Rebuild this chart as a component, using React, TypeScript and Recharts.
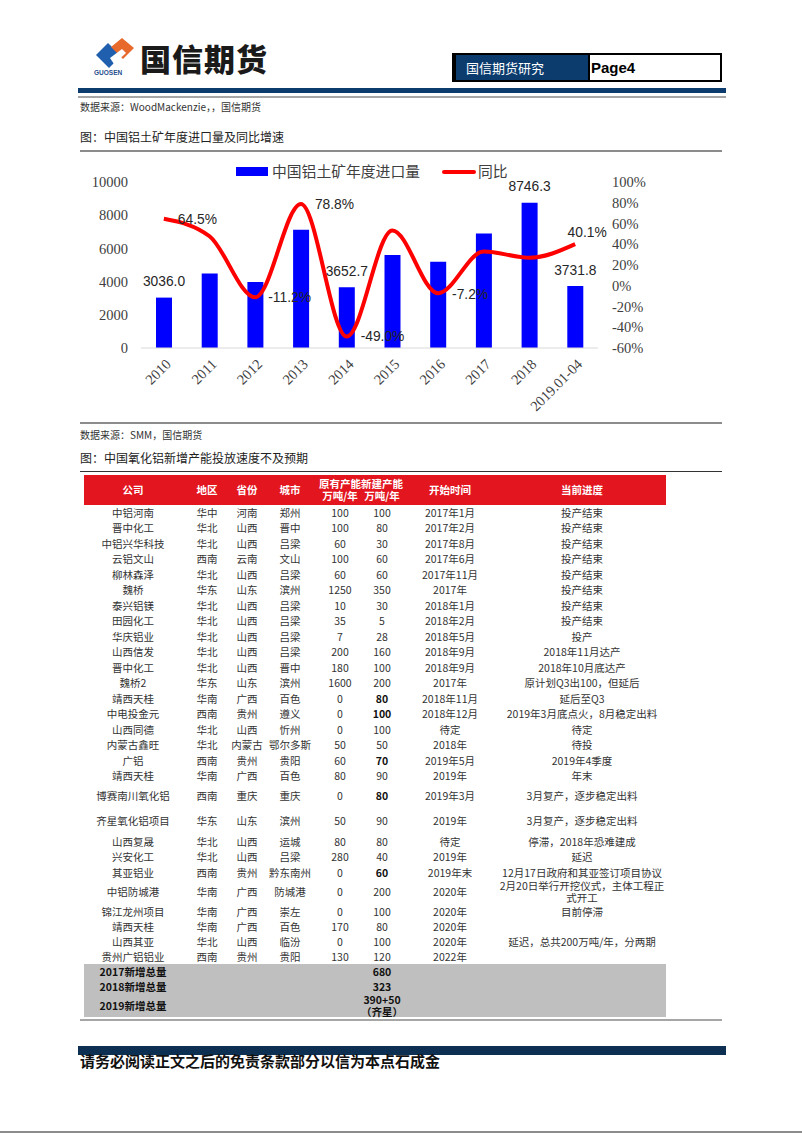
import React from 'react';
import { ComposedChart, Bar, Line, XAxis, YAxis, LabelList, Legend } from 'recharts';

// ---------- Chart data ----------
const categories = ['2010', '2011', '2012', '2013', '2014', '2015', '2016', '2017', '2018', '2019.01-04'];
const importVolume = [3036.0, 4484, 3982, 7120, 3652.7, 5600, 5200, 6900, 8746.3, 3731.8];
const yoyGrowth = [64.5, 47.7, -11.2, 78.8, -49.0, 53.3, -7.2, 33.0, 27.0, 40.1];
const volumeLabelShown = ['2010', '2014', '2018', '2019.01-04'];
const yoyLabelShown = ['2010', '2012', '2013', '2014', '2016', '2019.01-04'];
const leftTicks = [0, 2000, 4000, 6000, 8000, 10000];
const rightTicks = [-60, -40, -20, 0, 20, 40, 60, 80, 100];
const seriesNames = ['中国铝土矿年度进口量', '同比'];

// label placement (style only): [dx, dy, anchor]
const yoyLabelOffset: Record<string, [number, number, string]> = {
  '2010': [14, 1, 'start'],
  '2012': [13, 0, 'start'],
  '2013': [14, 1, 'start'],
  '2014': [14, 0, 'start'],
  '2016': [14, 1, 'start'],
  '2019.01-04': [12, -12, 'middle'],
};

// ---------- Table data ----------
const tableHeaders = ['公司', '地区', '省份', '城市', '原有产能\n万吨/年', '新建产能\n万吨/年', '开始时间', '当前进度'];
const tableRows: string[][] = [
  ['中铝河南', '华中', '河南', '郑州', '100', '100', '2017年1月', '投产结束'],
  ['晋中化工', '华北', '山西', '晋中', '100', '80', '2017年2月', '投产结束'],
  ['中铝兴华科技', '华北', '山西', '吕梁', '60', '30', '2017年8月', '投产结束'],
  ['云铝文山', '西南', '云南', '文山', '100', '60', '2017年6月', '投产结束'],
  ['柳林森泽', '华北', '山西', '吕梁', '60', '60', '2017年11月', '投产结束'],
  ['魏桥', '华东', '山东', '滨州', '1250', '350', '2017年', '投产结束'],
  ['泰兴铝镁', '华北', '山西', '吕梁', '10', '30', '2018年1月', '投产结束'],
  ['田园化工', '华北', '山西', '吕梁', '35', '5', '2018年2月', '投产结束'],
  ['华庆铝业', '华北', '山西', '吕梁', '7', '28', '2018年5月', '投产'],
  ['山西信发', '华北', '山西', '吕梁', '200', '160', '2018年9月', '2018年11月达产'],
  ['晋中化工', '华北', '山西', '晋中', '180', '100', '2018年9月', '2018年10月底达产'],
  ['魏桥2', '华东', '山东', '滨州', '1600', '200', '2017年', '原计划Q3出100，但延后'],
  ['靖西天桂', '华南', '广西', '百色', '0', '80', '2018年11月', '延后至Q3'],
  ['中电投金元', '西南', '贵州', '遵义', '0', '100', '2018年12月', '2019年3月底点火，8月稳定出料'],
  ['山西同德', '华北', '山西', '忻州', '0', '100', '待定', '待定'],
  ['内蒙古鑫旺', '华北', '内蒙古', '鄂尔多斯', '50', '50', '2018年', '待投'],
  ['广铝', '西南', '贵州', '贵阳', '60', '70', '2019年5月', '2019年4季度'],
  ['靖西天桂', '华南', '广西', '百色', '80', '90', '2019年', '年末'],
  ['博赛南川氧化铝', '西南', '重庆', '重庆', '0', '80', '2019年3月', '3月复产，逐步稳定出料'],
  ['齐星氧化铝项目', '华东', '山东', '滨州', '50', '90', '2019年', '3月复产，逐步稳定出料'],
  ['山西复晟', '华北', '山西', '运城', '80', '80', '待定', '停滞，2018年恐难建成'],
  ['兴安化工', '华北', '山西', '吕梁', '280', '40', '2019年', '延迟'],
  ['其亚铝业', '西南', '贵州', '黔东南州', '0', '60', '2019年末', '12月17日政府和其亚签订项目协议'],
  ['中铝防城港', '华南', '广西', '防城港', '0', '200', '2020年', '2月20日举行开挖仪式，主体工程正\n式开工'],
  ['锦江龙州项目', '华南', '广西', '崇左', '0', '100', '2020年', '目前停滞'],
  ['靖西天桂', '华南', '广西', '百色', '170', '80', '2020年', ''],
  ['山西其亚', '华北', '山西', '临汾', '0', '100', '2020年', '延迟，总共200万吨/年，分两期'],
  ['贵州广铝铝业', '西南', '贵州', '贵阳', '130', '120', '2022年', ''],
];
const boldNewCapacityRows = [12, 13, 16, 18, 22];
const summaryRows = [
  ['2017新增总量', '680'],
  ['2018新增总量', '323'],
  ['2019新增总量', '390+50\n（齐星）'],
];

// ---------- Layout (style only) ----------
const colLefts = [84, 182, 232, 262, 318, 362, 402, 498];
const colWidths = [98, 50, 30, 56, 44, 40, 96, 168];
const rowHeights = [
  15.5, 15.5, 15.5, 15.5, 15.5, 15.5, 15.5, 15.5, 15.5, 15.5, 15.5, 15.5, 15.5, 15.5, 15.5, 15.5, 15.5, 15.5,
  24, 26, 15.5, 15.5, 15.5, 23.5, 15, 15, 15, 15,
];
const summaryHeights = [15, 15, 23];

const chartData = categories.map((c, i) => ({ name: c, volume: importVolume[i], yoy: yoyGrowth[i] }));

const SERIF = '"Liberation Serif", "Times New Roman", serif';
const SANS = '"Liberation Sans", Arial, sans-serif';
const CJK = '"Noto Sans CJK SC", "Noto Sans", sans-serif';

const XTick = (props: any) => {
  const { x, y, payload } = props;
  const tx = x + 8;
  const ty = y + 17;
  return (
    <text x={tx} y={ty} transform={`rotate(-45 ${tx} ${ty})`} textAnchor="end" fontFamily={SERIF} fontSize={14.5} fill="#404040">
      {payload.value}
    </text>
  );
};

const VolumeLabel = (props: any) => {
  const { x, y, width, value, index } = props;
  if (!volumeLabelShown.includes(categories[index])) return null;
  return (
    <text x={x + width / 2} y={y - 16} textAnchor="middle" dominantBaseline="central" fontFamily={SANS} fontSize={13.8} fill="#262626">
      {Number(value).toFixed(1)}
    </text>
  );
};

const YoyLabel = (props: any) => {
  const { x, y, value, index } = props;
  const cat = categories[index];
  if (!yoyLabelShown.includes(cat)) return null;
  const [dx, dy, anchor] = yoyLabelOffset[cat];
  return (
    <text x={x + dx} y={y + dy} textAnchor={anchor as any} dominantBaseline="central" fontFamily={SANS} fontSize={13.8} fill="#262626">
      {Number(value).toFixed(1)}%
    </text>
  );
};

const LegendContent = () => (
  <div style={{ position: 'relative', width: 580, height: 30 }}>
    <div style={{ position: 'absolute', left: 156, top: 15, width: 32, height: 9, background: '#0000FF' }} />
    <div style={{ position: 'absolute', left: 192, top: 9, fontFamily: CJK, fontSize: 14.8, lineHeight: '20px', color: '#404040', whiteSpace: 'nowrap' }}>
      {seriesNames[0]}
    </div>
    <div style={{ position: 'absolute', left: 362, top: 17.5, width: 34, height: 4, borderRadius: 2, background: '#FF0000' }} />
    <div style={{ position: 'absolute', left: 398, top: 9, fontFamily: CJK, fontSize: 14.8, lineHeight: '20px', color: '#404040', whiteSpace: 'nowrap' }}>
      {seriesNames[1]}
    </div>
  </div>
);

const Cell = ({ left, width, children, bold, color, size }: any) => (
  <div
    style={{
      position: 'absolute',
      left: left - 84,
      width,
      top: 0,
      bottom: 0,
      display: 'flex',
      alignItems: 'center',
      justifyContent: 'center',
      textAlign: 'center',
      whiteSpace: 'pre',
      fontWeight: bold ? 700 : 400,
      color: color || '#333',
      fontSize: size || 10.5,
      lineHeight: '12px',
    }}
  >
    {children}
  </div>
);

export default function App() {
  let rowTop = 505;
  const rowEls = tableRows.map((r, i) => {
    const top = rowTop;
    rowTop += rowHeights[i];
    return (
      <div key={i} style={{ position: 'absolute', left: 84, top, width: 582, height: rowHeights[i] }}>
        {r.map((cell, j) => (
          <Cell key={j} left={colLefts[j]} width={colWidths[j]} bold={j === 5 && boldNewCapacityRows.includes(i)} color={j === 5 && boldNewCapacityRows.includes(i) ? '#111' : '#333'}>
            {cell}
          </Cell>
        ))}
      </div>
    );
  });
  const summaryStart = rowTop;
  const sumEls = summaryRows.map((r, i) => {
    const top = rowTop;
    rowTop += summaryHeights[i];
    return (
      <div key={'s' + i} style={{ position: 'absolute', left: 84, top, width: 582, height: summaryHeights[i] }}>
        <Cell left={colLefts[0]} width={colWidths[0]} bold color="#111">{r[0]}</Cell>
        <Cell left={colLefts[5]} width={colWidths[5]} bold color="#111">{r[1]}</Cell>
      </div>
    );
  });

  return (
    <div style={{ position: 'absolute', left: 0, top: 0, width: 802, height: 1133, background: '#fff', overflow: 'hidden', fontFamily: CJK }}>
      {/* Logo */}
      <svg style={{ position: 'absolute', left: 92, top: 38 }} width={48} height={40}>
        <polygon points="4,17 16,5 29,18 17,30" fill="#1f5fae" />
        <polygon points="19,9 30,0 42,10 31,21" fill="#e8692c" />
        <polygon points="18,20 30,11 34,15 22,26" fill="#ffffff" />
        <text x={2} y={37} fontFamily={SANS} fontSize={6.5} fontWeight={700} fill="#1f4e8c">GUOSEN</text>
      </svg>
      <div style={{ position: 'absolute', left: 140, top: 40, fontSize: 31, fontWeight: 900, color: '#1a1a1a', lineHeight: '36px', letterSpacing: 1, whiteSpace: 'nowrap' }}>国信期货</div>

      {/* Header box */}
      <div style={{ position: 'absolute', left: 452, top: 53, width: 270, height: 29, border: '2.5px solid #000', boxSizing: 'border-box', background: '#fff' }}>
        <div style={{ position: 'absolute', left: 0, top: 0, width: 134, height: '100%', background: '#0c3c6e' }} />
        <div style={{ position: 'absolute', left: 0, top: 0, width: 2, height: '100%', background: '#000' }} />
        <div style={{ position: 'absolute', left: 12, top: 0, height: '100%', display: 'flex', alignItems: 'center', color: '#fff', fontSize: 13, whiteSpace: 'nowrap' }}>国信期货研究</div>
        <div style={{ position: 'absolute', left: 134, top: 0, width: 2, height: '100%', background: '#000' }} />
        <div style={{ position: 'absolute', left: 137, top: 0, height: '100%', display: 'flex', alignItems: 'center', color: '#000', fontSize: 15, fontWeight: 700, fontFamily: SANS }}>Page4</div>
      </div>

      {/* Header rules */}
      <div style={{ position: 'absolute', left: 78, top: 88, width: 648, height: 5, background: '#0c3c6e' }} />
      <div style={{ position: 'absolute', left: 78, top: 96, width: 648, height: 2, background: '#a6a6a6' }} />

      <div style={{ position: 'absolute', left: 80, top: 100, fontSize: 10, lineHeight: '14px', color: '#333', whiteSpace: 'nowrap' }}>数据来源：WoodMackenzie，，国信期货</div>
      <div style={{ position: 'absolute', left: 80, top: 129, fontSize: 12, lineHeight: '16px', color: '#222', whiteSpace: 'nowrap' }}>图：中国铝土矿年度进口量及同比增速</div>
      <div style={{ position: 'absolute', left: 80, top: 150, width: 642, height: 2, background: '#8c8c8c' }} />

      {/* Chart */}
      <div style={{ position: 'absolute', left: 80, top: 152 }}>
        <ComposedChart width={580} height={268} data={chartData} margin={{ top: 30, right: 0, bottom: 0, left: 0 }}>
          <XAxis
            dataKey="name"
            height={72}
            interval={0}
            tickLine={false}
            tickSize={0}
            tickMargin={0}
            axisLine={{ stroke: '#d9d9d9', strokeWidth: 1 }}
            tick={<XTick />}
          />
          <YAxis
            yAxisId="left"
            orientation="left"
            width={61}
            domain={[0, 10000]}
            ticks={leftTicks}
            interval={0}
            axisLine={false}
            tickLine={false}
            tickSize={0}
            tickMargin={13}
            tick={{ fontFamily: SERIF, fontSize: 14.5, fill: '#404040' }}
          />
          <YAxis
            yAxisId="right"
            orientation="right"
            width={62}
            domain={[-60, 100]}
            ticks={rightTicks}
            interval={0}
            axisLine={false}
            tickLine={false}
            tickSize={0}
            tickMargin={14}
            tickFormatter={(v: number) => `${v}%`}
            tick={{ fontFamily: SERIF, fontSize: 14.5, fill: '#404040' }}
          />
          <Legend
            layout="horizontal"
            verticalAlign="middle"
            align="center"
            wrapperStyle={{ top: 0, left: 0, width: 580, height: 30 }}
            content={<LegendContent />}
          />
          <Bar yAxisId="left" dataKey="volume" name={seriesNames[0]} fill="#0000FF" barSize={16} isAnimationActive={false}>
            <LabelList dataKey="volume" content={<VolumeLabel />} />
          </Bar>
          <Line
            yAxisId="right"
            dataKey="yoy"
            name={seriesNames[1]}
            type="monotone"
            stroke="#FF0000"
            strokeWidth={4}
            dot={false}
            activeDot={false}
            isAnimationActive={false}
          >
            <LabelList dataKey="yoy" content={<YoyLabel />} />
          </Line>
        </ComposedChart>
      </div>

      <div style={{ position: 'absolute', left: 80, top: 422, width: 642, height: 2, background: '#8c8c8c' }} />
      <div style={{ position: 'absolute', left: 80, top: 428, fontSize: 10, lineHeight: '14px', color: '#333', whiteSpace: 'nowrap' }}>数据来源：SMM，国信期货</div>
      <div style={{ position: 'absolute', left: 80, top: 450, fontSize: 12, lineHeight: '16px', color: '#222', whiteSpace: 'nowrap' }}>图：中国氧化铝新增产能投放速度不及预期</div>
      <div style={{ position: 'absolute', left: 80, top: 471, width: 642, height: 1, background: '#333' }} />

      {/* Table */}
      <div style={{ position: 'absolute', left: 84, top: 475, width: 582, height: 30, background: '#E3151F' }}>
        {tableHeaders.map((h, j) => (
          <Cell key={j} left={colLefts[j]} width={colWidths[j]} bold color="#fff">{h}</Cell>
        ))}
      </div>
      {rowEls}
      <div style={{ position: 'absolute', left: 84, top: summaryStart, width: 582, height: rowTop - summaryStart, background: '#bfbfbf' }} />
      {sumEls}
      <div style={{ position: 'absolute', left: 80, top: 1019, width: 642, height: 2, background: '#a6a6a6' }} />

      {/* Footer */}
      <div style={{ position: 'absolute', left: 78, top: 1046, width: 648, height: 9, background: '#0c2f52' }} />
      <div style={{ position: 'absolute', left: 80, top: 1052, fontSize: 15, fontWeight: 700, lineHeight: '18px', color: '#111', whiteSpace: 'nowrap' }}>
        请务必阅读正文之后的免责条款部分以信为本点石成金
      </div>
      <div style={{ position: 'absolute', left: 0, top: 1131, width: 802, height: 2, background: '#8c8c8c' }} />
    </div>
  );
}
